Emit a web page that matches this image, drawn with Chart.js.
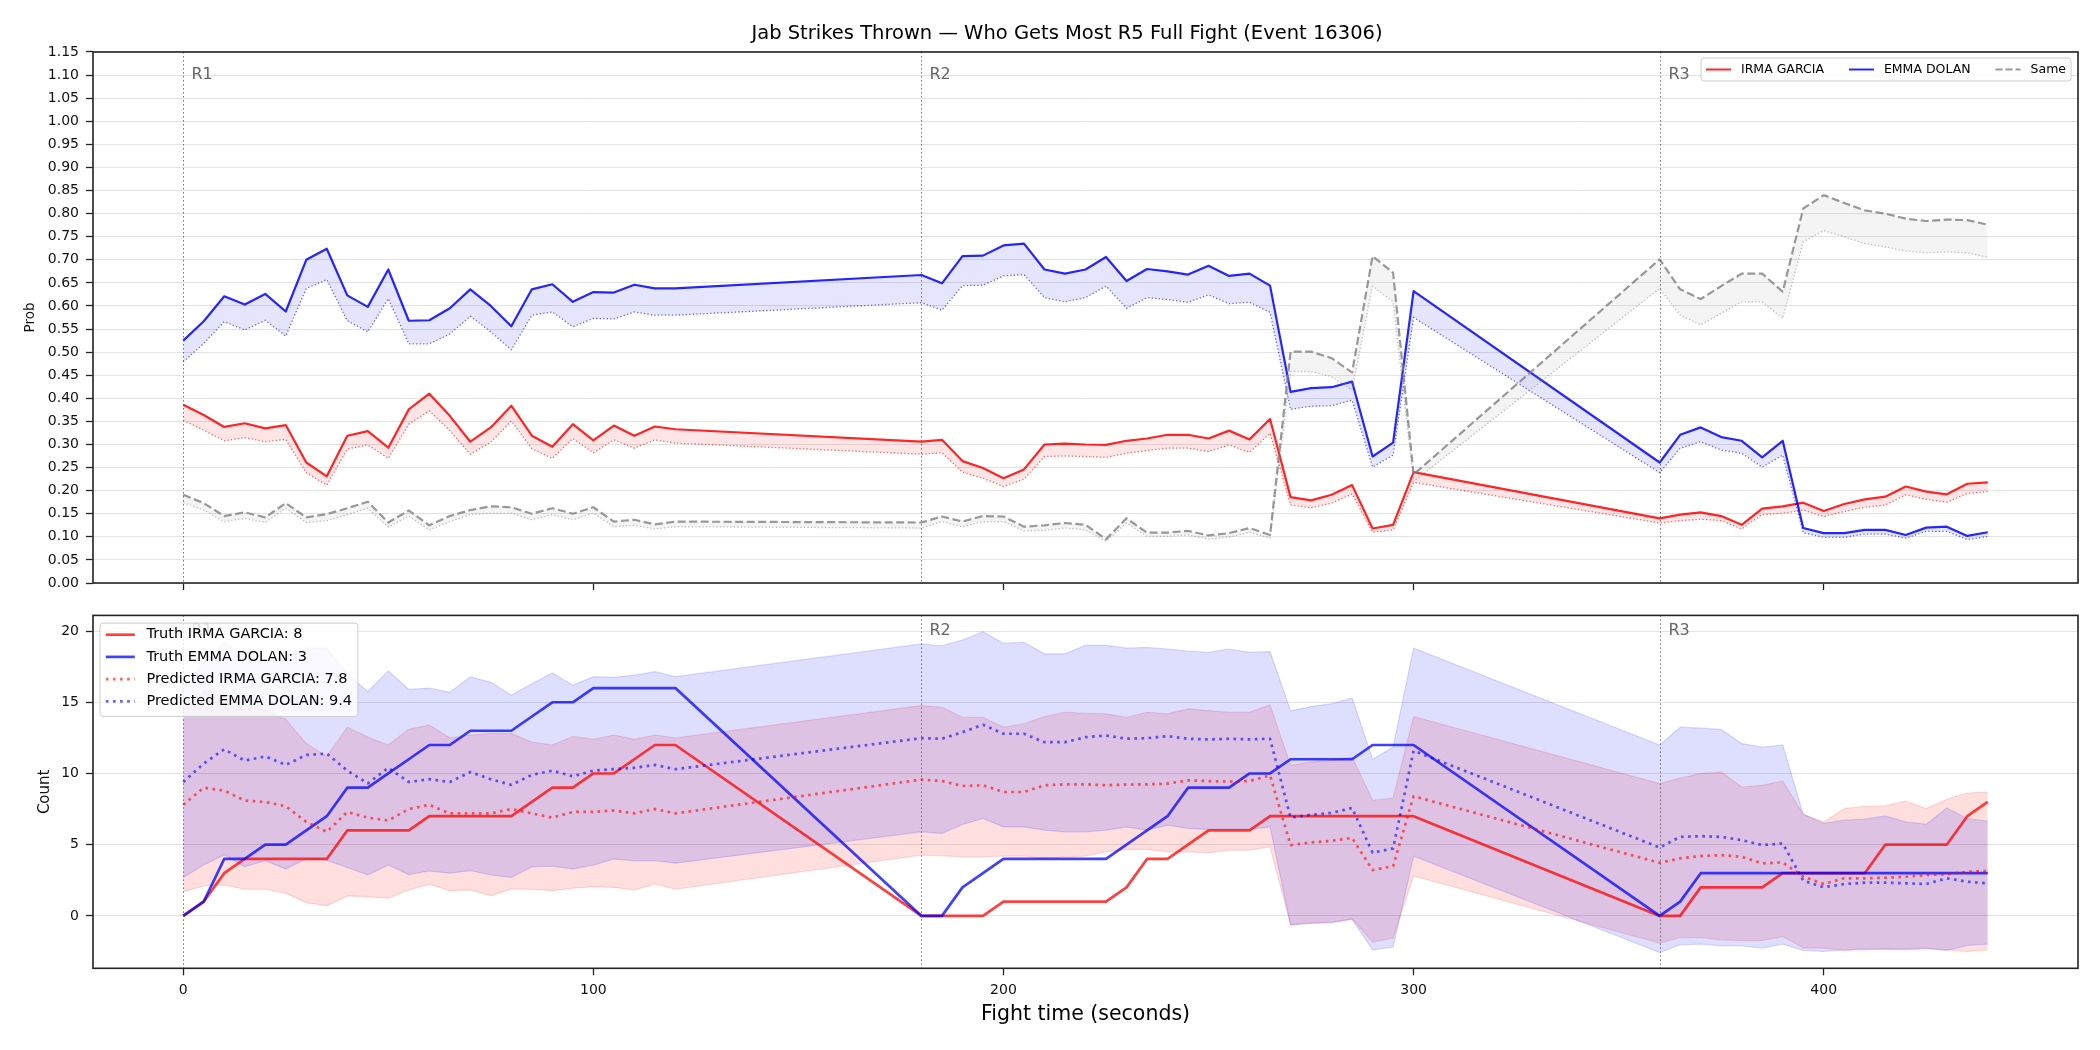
<!DOCTYPE html>
<html>
<head>
<meta charset="utf-8">
<script src="https://cdn.jsdelivr.net/npm/chart.js@4.4.1/dist/chart.umd.min.js"></script>
<style>
  html, body { margin: 0; padding: 0; background: #fff; }
  #wrap { position: relative; width: 2100px; height: 1050px; }
  canvas { position: absolute; left: 0; }
  #probChart { top: 0; }
  #countChart { top: 600px; }
</style>
</head>
<body>
<div id="wrap">
  <canvas id="probChart" width="2100" height="600"></canvas>
  <canvas id="countChart" width="2100" height="450"></canvas>
</div>
<script>
// Fight time samples (seconds), three rounds
const times = [
  0, 5, 10, 15, 20, 25, 30, 35, 40, 45, 50, 55, 60, 65, 70, 75, 80, 85, 90, 95, 100, 105, 110, 115, 120,
  180, 185, 190, 195, 200, 205, 210, 215, 220, 225, 230, 235, 240, 245, 250, 255, 260, 265, 270, 275, 280, 285, 290, 295, 300,
  360, 365, 370, 375, 380, 385, 390, 395, 400, 405, 410, 415, 420, 425, 430, 435, 440
];

const fighterA = 'IRMA GARCIA';
const fighterB = 'EMMA DOLAN';

// Top panel: win probabilities (solid) and their lower dotted companions
const irmaProb = [
  0.386, 0.364, 0.338, 0.346, 0.335, 0.342, 0.261, 0.231, 0.319, 0.329, 0.293, 0.376, 0.410, 0.362, 0.306, 0.337, 0.384, 0.319, 0.295, 0.344, 0.309, 0.341, 0.319, 0.339, 0.333,
  0.306, 0.310, 0.264, 0.249, 0.227, 0.246, 0.300, 0.302, 0.300, 0.299, 0.308, 0.313, 0.321, 0.321, 0.313, 0.330, 0.311, 0.355, 0.186, 0.179, 0.191, 0.212, 0.118, 0.126, 0.240,
  0.140, 0.148, 0.153, 0.145, 0.126, 0.161, 0.166, 0.174, 0.156, 0.171, 0.181, 0.187, 0.209, 0.198, 0.192, 0.215, 0.218
];
const irmaProbLow = [
  0.352, 0.331, 0.308, 0.315, 0.306, 0.311, 0.239, 0.212, 0.290, 0.299, 0.270, 0.344, 0.373, 0.330, 0.279, 0.305, 0.351, 0.291, 0.270, 0.313, 0.282, 0.310, 0.292, 0.310, 0.303,
  0.279, 0.282, 0.240, 0.227, 0.209, 0.225, 0.274, 0.275, 0.274, 0.272, 0.281, 0.287, 0.292, 0.292, 0.285, 0.299, 0.283, 0.324, 0.169, 0.163, 0.173, 0.193, 0.110, 0.115, 0.218,
  0.130, 0.135, 0.138, 0.135, 0.117, 0.148, 0.151, 0.158, 0.144, 0.155, 0.164, 0.169, 0.191, 0.181, 0.175, 0.194, 0.198
];
const emmaProb = [
  0.525, 0.567, 0.621, 0.603, 0.626, 0.588, 0.700, 0.724, 0.623, 0.598, 0.679, 0.568, 0.569, 0.595, 0.636, 0.600, 0.556, 0.636, 0.647, 0.609, 0.630, 0.629, 0.646, 0.638, 0.638,
  0.667, 0.649, 0.708, 0.709, 0.731, 0.735, 0.679, 0.670, 0.679, 0.706, 0.654, 0.680, 0.675, 0.668, 0.687, 0.665, 0.670, 0.644, 0.414, 0.422, 0.424, 0.436, 0.274, 0.304, 0.632,
  0.261, 0.321, 0.337, 0.316, 0.308, 0.272, 0.308, 0.119, 0.108, 0.108, 0.115, 0.115, 0.104, 0.120, 0.122, 0.102, 0.110
];
const emmaProbLow = [
  0.479, 0.519, 0.566, 0.548, 0.569, 0.535, 0.638, 0.657, 0.568, 0.544, 0.616, 0.518, 0.518, 0.539, 0.578, 0.544, 0.505, 0.580, 0.587, 0.555, 0.573, 0.572, 0.587, 0.580, 0.580,
  0.607, 0.591, 0.644, 0.645, 0.665, 0.668, 0.618, 0.609, 0.618, 0.643, 0.595, 0.618, 0.614, 0.608, 0.624, 0.605, 0.608, 0.586, 0.376, 0.383, 0.384, 0.396, 0.251, 0.277, 0.575,
  0.239, 0.292, 0.306, 0.288, 0.281, 0.251, 0.277, 0.109, 0.099, 0.099, 0.106, 0.106, 0.097, 0.112, 0.112, 0.094, 0.101
];
const sameProb = [
  0.191, 0.173, 0.145, 0.153, 0.142, 0.173, 0.142, 0.149, 0.162, 0.176, 0.131, 0.157, 0.125, 0.145, 0.158, 0.166, 0.164, 0.150, 0.162, 0.150, 0.164, 0.133, 0.137, 0.127, 0.133,
  0.131, 0.144, 0.133, 0.145, 0.144, 0.122, 0.125, 0.130, 0.126, 0.095, 0.140, 0.109, 0.109, 0.113, 0.103, 0.108, 0.119, 0.104, 0.501, 0.501, 0.487, 0.456, 0.708, 0.672, 0.235,
  0.701, 0.636, 0.615, 0.643, 0.670, 0.670, 0.631, 0.811, 0.840, 0.823, 0.807, 0.800, 0.789, 0.784, 0.787, 0.786, 0.776
];
const sameProbLow = [
  0.174, 0.158, 0.133, 0.140, 0.131, 0.162, 0.131, 0.135, 0.148, 0.162, 0.121, 0.145, 0.115, 0.133, 0.148, 0.151, 0.151, 0.137, 0.148, 0.137, 0.151, 0.122, 0.125, 0.117, 0.122,
  0.119, 0.133, 0.122, 0.133, 0.133, 0.113, 0.114, 0.119, 0.115, 0.090, 0.130, 0.101, 0.101, 0.104, 0.095, 0.099, 0.110, 0.097, 0.458, 0.458, 0.447, 0.418, 0.643, 0.609, 0.220,
  0.638, 0.580, 0.559, 0.584, 0.609, 0.609, 0.573, 0.739, 0.763, 0.750, 0.735, 0.728, 0.719, 0.715, 0.717, 0.715, 0.705
];

// Bottom panel: cumulative counts, truth and predicted, with bands
const truthIrma = [
  0, 1, 3, 4, 4, 4, 4, 4, 6, 6, 6, 6, 7, 7, 7, 7, 7, 8, 9, 9, 10, 10, 11, 12, 12,
  0, 0, 0, 0, 1, 1, 1, 1, 1, 1, 2, 4, 4, 5, 6, 6, 6, 7, 7, 7, 7, 7, 7, 7, 7,
  0, 0, 2, 2, 2, 2, 3, 3, 3, 3, 3, 5, 5, 5, 5, 7, 8
];
const truthEmma = [
  0, 1, 4, 4, 5, 5, 6, 7, 9, 9, 10, 11, 12, 12, 13, 13, 13, 14, 15, 15, 16, 16, 16, 16, 16,
  0, 0, 2, 3, 4, 4, 4, 4, 4, 4, 5, 6, 7, 9, 9, 9, 10, 10, 11, 11, 11, 11, 12, 12, 12,
  0, 1, 3, 3, 3, 3, 3, 3, 3, 3, 3, 3, 3, 3, 3, 3, 3
];
const predIrma = [
  7.8, 9.0, 8.8, 8.1, 8.0, 7.7, 6.6, 5.9, 7.3, 6.9, 6.7, 7.5, 7.8, 7.2, 7.2, 7.2, 7.5, 7.2, 6.9, 7.3, 7.3, 7.4, 7.2, 7.5, 7.2,
  9.57, 9.47, 9.12, 9.17, 8.7, 8.7, 9.17, 9.24, 9.24, 9.17, 9.22, 9.24, 9.29, 9.52, 9.47, 9.43, 9.47, 9.87, 4.97, 5.16, 5.27, 5.48, 3.22, 3.5, 8.4,
  3.73, 4.04, 4.2, 4.27, 4.15, 3.69, 3.76, 2.75, 2.24, 2.64, 2.64, 2.68, 2.75, 2.87, 2.92, 3.1, 3.15
];
const predEmma = [
  9.4, 10.7, 11.7, 10.9, 11.2, 10.6, 11.3, 11.4, 10.2, 9.3, 10.4, 9.4, 9.6, 9.4, 10.1, 9.6, 9.2, 9.9, 10.2, 9.8, 10.2, 10.3, 10.4, 10.6, 10.3,
  12.48, 12.44, 12.9, 13.42, 12.79, 12.79, 12.2, 12.2, 12.55, 12.67, 12.44, 12.48, 12.62, 12.44, 12.39, 12.44, 12.39, 12.44, 6.9, 7.1, 7.23, 7.58, 4.43, 4.74, 11.6,
  4.8, 5.55, 5.6, 5.55, 5.32, 4.97, 5.09, 2.47, 2.01, 2.24, 2.33, 2.33, 2.29, 2.24, 2.64, 2.4, 2.29
];
const irmaHigh = [
  14.5, 15.8, 15.4, 15.0, 14.4, 13.8, 12.1, 11.2, 13.25, 12.55, 12.0, 13.1, 13.4, 12.5, 12.7, 12.8, 12.8, 12.2, 12.0, 12.6, 12.4, 12.7, 12.4, 12.7, 12.5,
  14.77, 14.65, 13.95, 13.95, 13.25, 13.49, 14.0, 14.3, 14.23, 14.19, 13.95, 14.3, 14.19, 14.54, 14.42, 14.3, 14.3, 14.82, 10.57, 10.8, 10.92, 11.15, 8.12, 8.28, 14.0,
  9.29, 9.68, 9.99, 10.1, 9.05, 9.17, 9.47, 7.14, 6.6, 7.53, 7.7, 7.72, 8.07, 7.53, 8.19, 8.63, 8.7
];
const irmaLow = [
  1.7, 2.1, 2.17, 1.87, 1.87, 1.59, 0.93, 0.72, 1.4, 1.35, 1.24, 1.82, 2.22, 1.77, 1.82, 1.42, 1.89, 1.87, 1.77, 1.94, 2.05, 2.0, 1.82, 2.24, 1.87,
  4.27, 4.22, 4.15, 4.15, 4.2, 4.2, 4.04, 4.15, 4.2, 4.5, 4.67, 4.67, 4.5, 4.5, 4.43, 4.62, 4.62, 4.85, -0.6, -0.48, -0.44, -0.2, -1.84, -1.56, 2.8,
  -1.91, -1.52, -1.52, -1.68, -1.73, -1.73, -1.45, -2.26, -2.26, -2.43, -2.38, -2.33, -2.38, -2.31, -2.38, -2.5, -2.38
];
const emmaHigh = [
  16.0, 17.8, 19.2, 18.3, 17.8, 18.3, 18.8, 18.8, 17.0, 15.75, 17.2, 15.9, 16.0, 15.7, 16.8, 16.4, 15.5, 16.3, 17.05, 16.2, 16.8, 16.75, 16.9, 17.15, 16.8,
  19.1, 18.97, 19.37, 19.95, 19.15, 19.2, 18.4, 18.4, 19.0, 19.0, 18.8, 18.85, 18.74, 18.6, 18.5, 18.74, 18.5, 18.55, 14.4, 14.7, 14.9, 15.3, 11.0, 11.85, 18.8,
  12.0, 13.25, 13.18, 13.09, 12.1, 11.85, 12.0, 7.14, 6.49, 6.72, 6.79, 7.02, 6.6, 6.44, 7.58, 6.84, 6.65
];
const emmaLow = [
  2.7, 3.57, 4.3, 3.45, 3.87, 3.3, 4.0, 3.9, 3.4, 2.87, 3.57, 2.9, 3.15, 3.0, 3.18, 2.87, 2.7, 3.45, 3.5, 3.3, 3.57, 4.0, 3.87, 3.87, 3.7,
  5.9, 5.79, 6.42, 6.84, 6.25, 6.25, 6.02, 5.9, 5.9, 6.02, 6.25, 6.02, 6.37, 6.14, 6.07, 6.07, 6.07, 6.25, -0.65, -0.53, -0.49, -0.25, -2.38, -2.19, 4.2,
  -2.57, -2.03, -1.98, -2.1, -2.1, -2.26, -1.98, -2.43, -2.5, -2.38, -2.31, -2.33, -2.33, -2.26, -2.43, -2.08, -1.98
];

const roundStarts = [0, 180, 360];
const roundNames = ['R1', 'R2', 'R3'];
const xTicks = [0, 100, 200, 300, 400];
const probTicks = [];
for (let i = 0; i <= 23; i++) probTicks.push(i * 0.05);
const countTicks = [0, 5, 10, 15, 20];

const FONT = "'DejaVu Sans', sans-serif";
Chart.defaults.font.family = FONT;
Chart.defaults.color = '#000';

const RED = 'rgba(255,0,0,0.85)';
const BLUE = 'rgba(0,0,255,0.85)';
const GRAY = 'rgba(128,128,128,0.8)';

function pts(values) {
  return values.map((v, i) => ({ x: times[i], y: v }));
}

// dotted round markers with their labels
const roundPlugin = {
  id: 'rounds',
  afterDatasetsDraw(chart, args, opts) {
    const { ctx, chartArea, scales } = chart;
    ctx.save();
    roundStarts.forEach((t, i) => {
      const x = Math.round(scales.x.getPixelForValue(t)) + 0.5;
      ctx.strokeStyle = 'rgba(70,70,70,0.75)';
      ctx.lineWidth = 1;
      ctx.setLineDash([1.5, 2.5]);
      ctx.beginPath();
      ctx.moveTo(x, chartArea.top);
      ctx.lineTo(x, chartArea.bottom);
      ctx.stroke();
      ctx.setLineDash([]);
      ctx.fillStyle = '#666';
      ctx.font = '16px ' + FONT;
      ctx.textAlign = 'left';
      ctx.textBaseline = 'middle';
      ctx.fillText(roundNames[i], x + 8, scales.y.getPixelForValue(opts.labelY));
    });
    ctx.restore();
  }
};

// axes frame on all four sides
const framePlugin = {
  id: 'frame',
  afterDraw(chart) {
    const { ctx, chartArea: a } = chart;
    ctx.save();
    ctx.strokeStyle = '#222';
    ctx.lineWidth = 1.6;
    ctx.strokeRect(a.left, a.top, a.right - a.left, a.bottom - a.top);
    ctx.restore();
  }
};

// matplotlib-like legend box drawn on top of everything
const boxLegend = {
  id: 'boxLegend',
  afterDraw(chart, args, opts) {
    const { ctx, chartArea: a } = chart;
    const fs = opts.fontSize;
    const pad = 0.4 * fs, handle = 2 * fs, textPad = 0.8 * fs, colGap = 2 * fs;
    ctx.save();
    ctx.font = fs + 'px ' + FONT;
    const widths = opts.items.map(it => ctx.measureText(it.text).width);
    let w;
    if (opts.horizontal) {
      w = 2 * pad + widths.reduce((s, tw) => s + handle + textPad + tw, 0) + colGap * (opts.items.length - 1);
    } else {
      w = 2 * pad + handle + textPad + Math.max(...widths);
    }
    const left = opts.anchor === 'right' ? a.right - opts.dx - w : a.left + opts.dx;
    const top = a.top + opts.dy;
    ctx.beginPath();
    ctx.roundRect(left, top, w, opts.height, 3);
    ctx.fillStyle = 'rgba(255,255,255,0.8)';
    ctx.fill();
    ctx.strokeStyle = '#cccccc';
    ctx.lineWidth = 1;
    ctx.stroke();
    let x = left + pad;
    opts.items.forEach((it, i) => {
      const y = opts.horizontal ? top + opts.firstRow : top + opts.firstRow + i * opts.rowStep;
      const x0 = opts.horizontal ? x : left + pad;
      ctx.strokeStyle = it.color;
      ctx.lineWidth = it.width;
      ctx.setLineDash(it.dash || []);
      ctx.beginPath();
      ctx.moveTo(x0, y);
      ctx.lineTo(x0 + handle, y);
      ctx.stroke();
      ctx.setLineDash([]);
      ctx.fillStyle = '#000';
      ctx.textAlign = 'left';
      ctx.textBaseline = 'middle';
      ctx.fillText(it.text, x0 + handle + textPad, y);
      x = x0 + handle + textPad + widths[i] + colGap;
    });
    ctx.restore();
  }
};

const titlePlugin = {
  id: 'figTitle',
  afterDraw(chart, args, opts) {
    const { ctx } = chart;
    ctx.save();
    ctx.font = opts.size + 'px ' + FONT;
    ctx.fillStyle = '#000';
    ctx.textAlign = 'center';
    ctx.textBaseline = 'middle';
    ctx.fillText(opts.text, opts.x, opts.y);
    ctx.restore();
  }
};

const lineBase = { pointRadius: 0, tension: 0, borderJoinStyle: 'round' };

// ---------- top: probabilities ----------
new Chart(document.getElementById('probChart'), {
  type: 'line',
  data: {
    datasets: [
      { ...lineBase, label: fighterA + ' low', data: pts(irmaProbLow), borderColor: 'rgba(255,0,0,0.6)', borderWidth: 1.3, borderDash: [1.3, 2.2], fill: false, order: 6 },
      { ...lineBase, label: fighterA, data: pts(irmaProb), borderColor: RED, borderWidth: 2.2, fill: { target: 0 }, backgroundColor: 'rgba(255,0,0,0.1)', order: 5 },
      { ...lineBase, label: fighterB + ' low', data: pts(emmaProbLow), borderColor: 'rgba(0,0,255,0.6)', borderWidth: 1.3, borderDash: [1.3, 2.2], fill: false, order: 4 },
      { ...lineBase, label: fighterB, data: pts(emmaProb), borderColor: BLUE, borderWidth: 2.2, fill: { target: 2 }, backgroundColor: 'rgba(0,0,255,0.1)', order: 3 },
      { ...lineBase, label: 'Same low', data: pts(sameProbLow), borderColor: 'rgba(128,128,128,0.5)', borderWidth: 1.3, borderDash: [1.3, 2.2], fill: false, order: 2 },
      { ...lineBase, label: 'Same', data: pts(sameProb), borderColor: GRAY, borderWidth: 2.2, borderDash: [8, 3.5], fill: { target: 4 }, backgroundColor: 'rgba(128,128,128,0.09)', order: 1 }
    ]
  },
  options: {
    responsive: false,
    animation: false,
    devicePixelRatio: 1,
    layout: { padding: { left: 13, right: 22, top: 52, bottom: 7 } },
    scales: {
      x: {
        type: 'linear', min: -22, max: 462,
        afterBuildTicks: s => { s.ticks = xTicks.map(v => ({ value: v })); },
        afterFit: s => { s.height = 10; },
        ticks: { display: false },
        grid: { drawOnChartArea: false, drawTicks: true, tickLength: 7, tickColor: '#222', tickWidth: 1.3 },
        border: { display: false }
      },
      y: {
        min: 0, max: 1.15,
        afterBuildTicks: s => { s.ticks = probTicks.map(v => ({ value: v })); },
        afterFit: s => { s.width = 80; },
        ticks: { font: { size: 14 }, color: '#111', padding: 7, callback: v => v.toFixed(2) },
        grid: { color: '#e3e3e3', lineWidth: 1, tickLength: 7, tickColor: '#222', tickWidth: 1.3 },
        border: { display: false },
        title: { display: true, text: 'Prob', font: { size: 13.5 }, color: '#111', padding: { top: 9.5, bottom: 0 } }
      }
    },
    plugins: {
      legend: { display: false },
      tooltip: { enabled: false },
      rounds: { labelY: 1.10 },
      figTitle: { text: 'Jab Strikes Thrown \u2014 Who Gets Most R5 Full Fight (Event 16306)', size: 19.5, x: 1067, y: 34 },
      boxLegend: {
        fontSize: 12.5, horizontal: true, anchor: 'right', dx: 7, dy: 6, height: 23, firstRow: 11.5,
        items: [
          { text: fighterA, color: RED, width: 2 },
          { text: fighterB, color: BLUE, width: 2 },
          { text: 'Same', color: GRAY, width: 2, dash: [7, 3] }
        ]
      }
    }
  },
  plugins: [roundPlugin, framePlugin, titlePlugin, boxLegend]
});

// ---------- bottom: counts ----------
const TRUTH_RED = 'rgba(255,0,0,0.75)';
const TRUTH_BLUE = 'rgba(0,0,255,0.75)';
const PRED_RED = 'rgba(255,0,0,0.6)';
const PRED_BLUE = 'rgba(0,0,255,0.6)';
const dotDash = [2.7, 4.4];

new Chart(document.getElementById('countChart'), {
  type: 'line',
  data: {
    datasets: [
      { ...lineBase, label: fighterA + ' hi', data: pts(irmaHigh), borderColor: 'rgba(255,0,0,0.14)', borderWidth: 1.2, fill: { target: 1 }, backgroundColor: 'rgba(255,0,0,0.13)', order: 8 },
      { ...lineBase, label: fighterA + ' lo', data: pts(irmaLow), borderColor: 'rgba(255,0,0,0.14)', borderWidth: 1.2, fill: false, order: 7 },
      { ...lineBase, label: fighterB + ' hi', data: pts(emmaHigh), borderColor: 'rgba(0,0,255,0.14)', borderWidth: 1.2, fill: { target: 3 }, backgroundColor: 'rgba(0,0,255,0.13)', order: 6 },
      { ...lineBase, label: fighterB + ' lo', data: pts(emmaLow), borderColor: 'rgba(0,0,255,0.14)', borderWidth: 1.2, fill: false, order: 5 },
      { ...lineBase, label: 'Truth ' + fighterA, data: pts(truthIrma), borderColor: TRUTH_RED, borderWidth: 2.7, fill: false, order: 4 },
      { ...lineBase, label: 'Truth ' + fighterB, data: pts(truthEmma), borderColor: TRUTH_BLUE, borderWidth: 2.7, fill: false, order: 3 },
      { ...lineBase, label: 'Predicted ' + fighterA, data: pts(predIrma), borderColor: PRED_RED, borderWidth: 2.7, borderDash: dotDash, fill: false, order: 2 },
      { ...lineBase, label: 'Predicted ' + fighterB, data: pts(predEmma), borderColor: PRED_BLUE, borderWidth: 2.7, borderDash: dotDash, fill: false, order: 1 }
    ]
  },
  options: {
    responsive: false,
    animation: false,
    devicePixelRatio: 1,
    layout: { padding: { left: 13, right: 22, top: 14, bottom: 11.7 } },
    scales: {
      x: {
        type: 'linear', min: -22, max: 462,
        afterBuildTicks: s => { s.ticks = xTicks.map(v => ({ value: v })); },
        afterFit: s => { s.height = 70; },
        ticks: { font: { size: 14 }, color: '#111', padding: 7, maxRotation: 0 },
        grid: { drawOnChartArea: false, drawTicks: true, tickLength: 7, tickColor: '#222', tickWidth: 1.3 },
        border: { display: false },
        title: { display: true, text: 'Fight time (seconds)', font: { size: 20.5 }, color: '#000', padding: { top: 0, bottom: 11 } }
      },
      y: {
        min: -3.68, max: 21.1,
        afterBuildTicks: s => { s.ticks = countTicks.map(v => ({ value: v })); },
        afterFit: s => { s.width = 80; },
        ticks: { font: { size: 14 }, color: '#111', padding: 7 },
        grid: { color: '#e3e3e3', lineWidth: 1, tickLength: 7, tickColor: '#222', tickWidth: 1.3 },
        border: { display: false },
        title: { display: true, text: 'Count', font: { size: 15 }, color: '#111', padding: { top: 23.5, bottom: 0 } }
      }
    },
    plugins: {
      legend: { display: false },
      tooltip: { enabled: false },
      rounds: { labelY: 20.0 },
      boxLegend: {
        fontSize: 14.5, horizontal: false, anchor: 'left', dx: 7, dy: 7.7, height: 93.3, firstRow: 11.6, rowStep: 22.2,
        items: [
          { text: 'Truth ' + fighterA + ': 8', color: TRUTH_RED, width: 2.7 },
          { text: 'Truth ' + fighterB + ': 3', color: TRUTH_BLUE, width: 2.7 },
          { text: 'Predicted ' + fighterA + ': 7.8', color: PRED_RED, width: 2.7, dash: dotDash },
          { text: 'Predicted ' + fighterB + ': 9.4', color: PRED_BLUE, width: 2.7, dash: dotDash }
        ]
      }
    }
  },
  plugins: [roundPlugin, framePlugin, boxLegend]
});
</script>
</body>
</html>
